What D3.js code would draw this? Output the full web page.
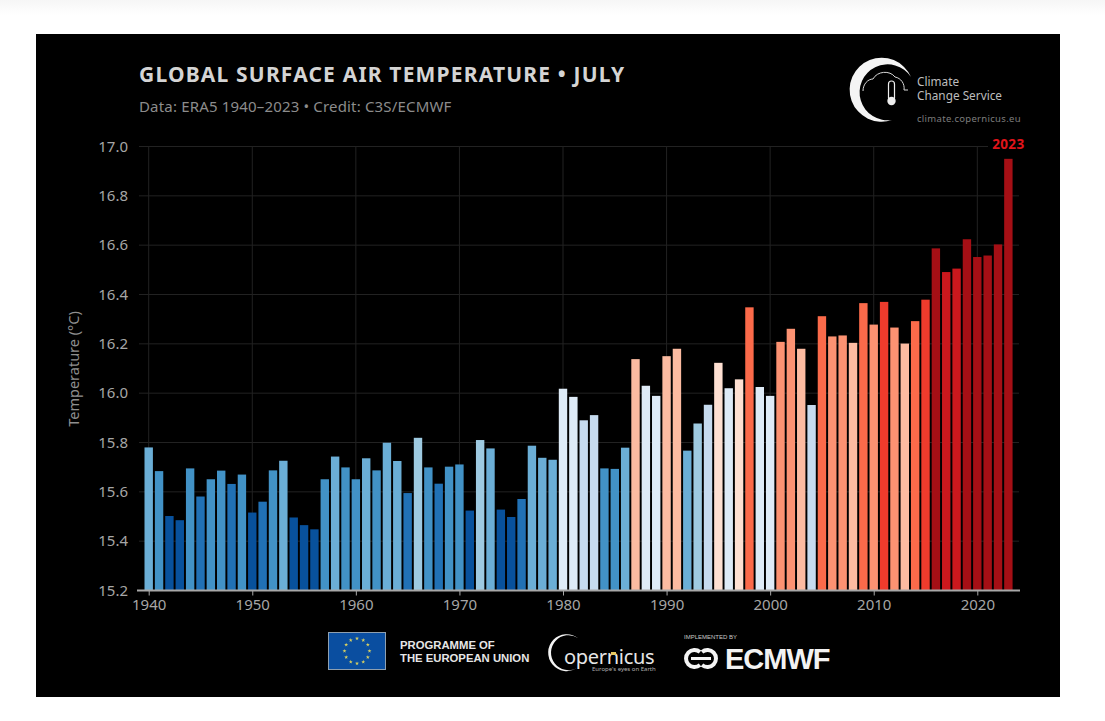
<!DOCTYPE html>
<html>
<head>
<meta charset="utf-8">
<script src="https://cdn.jsdelivr.net/npm/d3@7"></script>
<style>
  html, body { margin: 0; padding: 0; background: #fff; }
  svg { display: block; }
  text { font-family: "Noto Sans", sans-serif; }
</style>
</head>
<body>
<svg></svg>
<script>
const width = 1105;
const height = 721;

// July means, 1940-2023
const startYear = 1940;
const temps = [
  15.78, 15.684, 15.502, 15.485, 15.695, 15.581, 15.651, 15.686, 15.632, 15.67,
  15.516, 15.56, 15.687, 15.726, 15.496, 15.465, 15.448, 15.651, 15.743, 15.699,
  15.651, 15.736, 15.687, 15.799, 15.725, 15.595, 15.819, 15.699, 15.633, 15.702,
  15.711, 15.524, 15.81, 15.776, 15.528, 15.498, 15.571, 15.787, 15.738, 15.73,
  16.018, 15.985, 15.89, 15.911, 15.695, 15.693, 15.779, 16.138, 16.03, 15.989,
  16.15, 16.18, 15.767, 15.877, 15.953, 16.123, 16.02, 16.056, 16.348, 16.025,
  15.989, 16.208, 16.261, 16.18, 15.952, 16.312, 16.23, 16.234, 16.204, 16.365,
  16.278, 16.37, 16.266, 16.201, 16.292, 16.379, 16.587, 16.491, 16.505, 16.624,
  16.552, 16.558, 16.603, 16.95
];
const years = temps.map((_, i) => startYear + i);
const yTicks = [15.2, 15.4, 15.6, 15.8, 16.0, 16.2, 16.4, 16.6, 16.8, 17.0];
const xTicks = [1940, 1950, 1960, 1970, 1980, 1990, 2000, 2010, 2020];

// Stripe style colour bins
const colorBreaks = [15.55, 15.64, 15.72, 15.80, 15.88, 15.96, 16.04, 16.13, 16.206, 16.285, 16.368, 16.4, 16.52];
const colorBins = ["#08519c", "#2171b5", "#4292c6", "#6baed6", "#9ecae1", "#c6dbef", "#deebf7",
  "#fee0d2", "#fcbba1", "#fc9272", "#fb6a4a", "#ef3b2c", "#cb181d", "#a50f15"];

const color = d3.scaleThreshold().domain(colorBreaks).range(colorBins);

const x = d3.scaleLinear().domain([1940, 2020]).range([148.7, 977.3]);
const y = d3.scaleLinear().domain([15.2, 17.0]).range([590.5, 146.5]);
const barWidth = 8.4;

const svg = d3.select("svg").attr("width", width).attr("height", height);

// Faint strip at the top of the page and the black panel
const defs = svg.append("defs");
const fade = defs.append("linearGradient").attr("id", "fade").attr("x2", 0).attr("y2", 1);
fade.append("stop").attr("offset", 0).attr("stop-color", "#f6f6f6");
fade.append("stop").attr("offset", 1).attr("stop-color", "#ffffff");
svg.append("rect").attr("width", width).attr("height", 15).attr("fill", "url(#fade)");
svg.append("rect").attr("x", 36).attr("y", 34).attr("width", 1024).attr("height", 663).attr("fill", "#000");

// Grid
const grid = svg.append("g").attr("stroke", "#222").attr("stroke-width", 1);
grid.selectAll("line.h").data(yTicks.slice(1)).join("line").attr("class", "h")
  .attr("x1", 139).attr("x2", 1019)
  .attr("y1", (d) => y(d)).attr("y2", (d) => y(d));
grid.selectAll("line.v").data(xTicks).join("line").attr("class", "v")
  .attr("x1", (d) => x(d)).attr("x2", (d) => x(d))
  .attr("y1", y(17)).attr("y2", y(15.2));

// Bars
svg.append("g").selectAll("rect").data(years).join("rect")
  .attr("x", (d) => x(d) - barWidth / 2)
  .attr("width", barWidth)
  .attr("y", (d, i) => y(temps[i]))
  .attr("height", (d, i) => y(15.2) - y(temps[i]))
  .attr("fill", (d, i) => color(temps[i]));

// Axes
const xAxis = svg.append("g").attr("transform", `translate(0,${y(15.2)})`)
  .call(d3.axisBottom(x).tickValues(xTicks).tickFormat(d3.format("d")).tickSize(5).tickPadding(4));
xAxis.select(".domain").remove();
xAxis.selectAll("line").attr("stroke", "#a8a8a8");
xAxis.selectAll("text").attr("fill", "#a6a6a6").attr("font-size", 15).attr("font-family", "Noto Sans");

svg.append("line").attr("x1", 137).attr("x2", 1020)
  .attr("y1", y(15.2)).attr("y2", y(15.2))
  .attr("stroke", "#a8a8a8").attr("stroke-width", 2);

const yAxis = svg.append("g").attr("transform", "translate(139,0)")
  .call(d3.axisLeft(y).tickValues(yTicks).tickFormat(d3.format(".1f")).tickSize(0).tickPadding(11));
yAxis.select(".domain").remove();
yAxis.selectAll("text").attr("fill", "#a6a6a6").attr("font-size", 15).attr("font-family", "Noto Sans");

svg.append("text")
  .attr("transform", "translate(79,369) rotate(-90)")
  .attr("text-anchor", "middle")
  .attr("fill", "#8f8f8f").attr("font-size", 14.5)
  .text("Temperature (°C)");

// Label for the last year, masks the top grid line behind it
svg.append("rect").attr("x", 988).attr("y", 138).attr("width", 40).attr("height", 14).attr("fill", "#000");
svg.append("text")
  .attr("x", x(2023)).attr("y", 149)
  .attr("text-anchor", "middle")
  .attr("fill", "#e0141a").attr("font-size", 13.5).attr("font-weight", 700).attr("letter-spacing", 0.3)
  .text(years[years.length - 1]);

// Titles
svg.append("text").attr("x", 139).attr("y", 82)
  .attr("fill", "#d4d4d4").attr("font-size", 21).attr("font-weight", 700).attr("letter-spacing", 1.18)
  .text("GLOBAL SURFACE AIR TEMPERATURE • JULY");
svg.append("text").attr("x", 139).attr("y", 112)
  .attr("fill", "#8c8c8c").attr("font-size", 15).attr("letter-spacing", 0.17)
  .text("Data: ERA5 1940–2023 • Credit: C3S/ECMWF");

// Crescent drawn between its two tips, shared by the two logos
function crescent(ax, ay, bx, by, rOuter, rInner) {
  svg.append("path")
    .attr("d", `M${ax},${ay} A${rOuter},${rOuter} 0 1 0 ${bx},${by} A${rInner},${rInner} 0 1 1 ${ax},${ay} Z`)
    .attr("fill", "#f4f4f4");
}

// Climate Change Service logo
crescent(911, 77, 892, 120, 32, 28);
svg.append("path")
  .attr("d", "M863,91 C863,84 868,79 873,79 C877,71 890,70 895,77 C901,78 905,84 904,90 L908,90")
  .attr("fill", "none").attr("stroke", "#d8d8d8").attr("stroke-width", 1);
svg.append("rect").attr("x", 888.5).attr("y", 81).attr("width", 6).attr("height", 20).attr("rx", 3)
  .attr("fill", "#000").attr("stroke", "#eee").attr("stroke-width", 1.2);
svg.append("circle").attr("cx", 891.5).attr("cy", 101).attr("r", 4.2).attr("fill", "#eee");
svg.append("text").attr("x", 917).attr("y", 86).attr("fill", "#bdbdbd").attr("font-size", 11.8).text("Climate");
svg.append("text").attr("x", 917).attr("y", 100).attr("fill", "#bdbdbd").attr("font-size", 11.8).text("Change Service");
svg.append("text").attr("x", 917).attr("y", 122).attr("fill", "#7d7d7d").attr("font-size", 9.5).attr("letter-spacing", 0.3).text("climate.copernicus.eu");

// EU flag
svg.append("rect").attr("x", 328.5).attr("y", 632.5).attr("width", 57).attr("height", 37)
  .attr("fill", "#0a4ea0").attr("stroke", "#8fa0b0");
const stars = d3.range(12);
svg.append("g").selectAll("path").data(stars).join("path")
  .attr("d", d3.symbol(d3.symbolStar, 5))
  .attr("transform", (d) => {
    const a = (d / 12) * 2 * Math.PI;
    return `translate(${357 + 12.5 * Math.cos(a)},${651 + 12.5 * Math.sin(a)})`;
  })
  .attr("fill", "#d8d060");

svg.append("text").attr("x", 400).attr("y", 649)
  .attr("fill", "#e6e6e6").attr("font-size", 11.3).attr("font-weight", 700)
  .style("font-family", "'Liberation Sans'").text("PROGRAMME OF");
svg.append("text").attr("x", 400).attr("y", 662)
  .attr("fill", "#e6e6e6").attr("font-size", 11.3).attr("font-weight", 700)
  .style("font-family", "'Liberation Sans'").text("THE EUROPEAN UNION");

// Copernicus logo
crescent(578, 638, 577, 668, 18.5, 17.5);
svg.append("text").attr("x", 564).attr("y", 664)
  .attr("fill", "#e6e6e6").attr("font-size", 20).attr("letter-spacing", -0.3)
  .text("opernicus");
svg.append("rect").attr("x", 611).attr("y", 652).attr("width", 5).attr("height", 3).attr("fill", "#e8c860");
svg.append("text").attr("x", 592).attr("y", 671)
  .attr("fill", "#b0b0b0").attr("font-size", 6).text("Europe's eyes on Earth");

// ECMWF logo
svg.append("text").attr("x", 684).attr("y", 639)
  .attr("fill", "#c8c8c8").attr("font-size", 6).style("font-family", "'Liberation Sans'")
  .text("IMPLEMENTED BY");
const mark = svg.append("g").attr("fill", "none").attr("stroke", "#f4f4f4").attr("stroke-width", 4);
mark.append("path").attr("d", "M700,652 A8.5,8.5 0 1 0 700,665");
mark.append("path").attr("d", "M702,652 A8.5,8.5 0 1 1 702,665");
mark.append("path").attr("d", "M691,658.5 H711").attr("stroke-width", 3);
svg.append("text").attr("x", 725).attr("y", 669)
  .attr("fill", "#f2f2f2").attr("font-size", 29).attr("font-weight", 700).attr("letter-spacing", -1)
  .style("font-family", "'Liberation Sans'").text("ECMWF");
</script>
</body>
</html>
